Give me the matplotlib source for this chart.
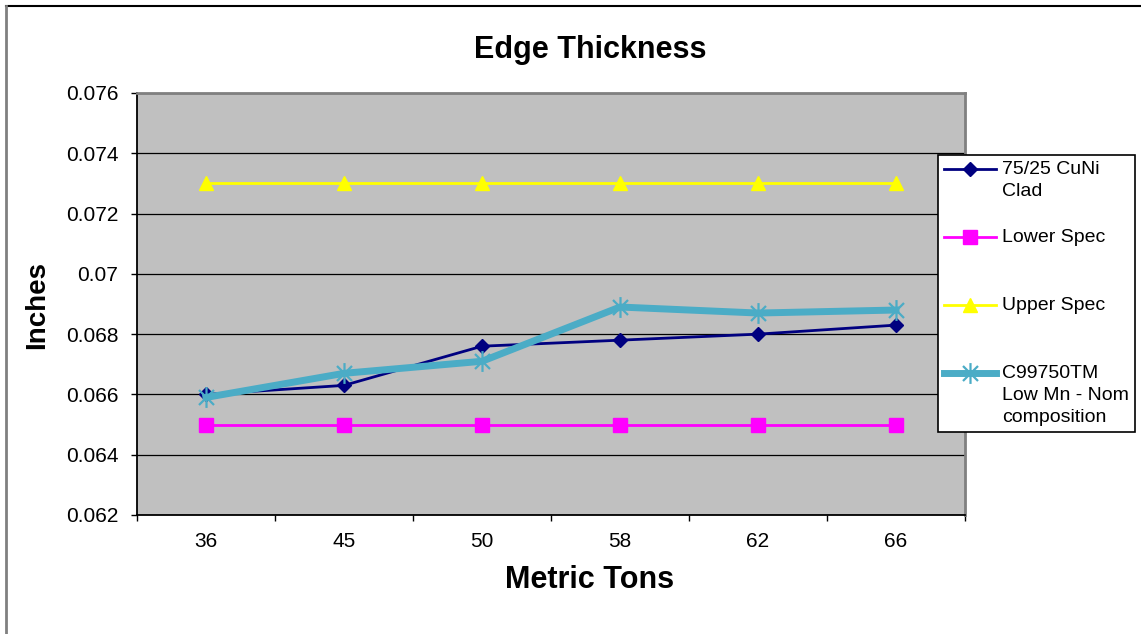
import numpy as np
import matplotlib
matplotlib.use("Agg")
import matplotlib.pyplot as plt
from matplotlib.lines import Line2D
from matplotlib.path import Path
from matplotlib.legend_handler import HandlerLine2D

# ----------------------------------------------------------------------
# data
tons = ["36", "45", "50", "58", "62", "66"]
cuni_clad = [0.0660, 0.0663, 0.0676, 0.0678, 0.0680, 0.0683]
lower_spec = [0.065, 0.065, 0.065, 0.065, 0.065, 0.065]
upper_spec = [0.073, 0.073, 0.073, 0.073, 0.073, 0.073]
c99750 = [0.0659, 0.0667, 0.0671, 0.0689, 0.0687, 0.0688]

y_ticks = [0.062, 0.064, 0.066, 0.068, 0.070, 0.072, 0.074, 0.076]
y_ticklabels = ["0.062", "0.064", "0.066", "0.068", "0.07", "0.072", "0.074", "0.076"]

labels = ["75/25 CuNi\nClad\n", "Lower Spec\n\n", "Upper Spec\n\n",
          "C99750TM\nLow Mn - Nom\ncomposition"]

# ----------------------------------------------------------------------
plt.rcParams.update({
    "font.family": ["Liberation Sans", "DejaVu Sans"],
    "figure.dpi": 100,
})

NAVY, MAGENTA, YELLOW, CYAN = "#000080", "#FF00FF", "#FFFF00", "#4BACC6"
PLOT_BG = "#C0C0C0"

# Excel "star" marker: vertical bar plus an X
star = Path([(0, -1), (0, 1), (-0.72, -0.72), (0.72, 0.72), (-0.72, 0.72), (0.72, -0.72)],
            [Path.MOVETO, Path.LINETO, Path.MOVETO, Path.LINETO, Path.MOVETO, Path.LINETO])


class FirstLineHandler(HandlerLine2D):
    """Put the legend sample level with the first line of a 3-line label."""
    def __init__(self, lift, **kw):
        super().__init__(**kw)
        self.lift = lift

    def create_artists(self, legend, orig_handle, xdescent, ydescent,
                       width, height, fontsize, trans):
        return super().create_artists(legend, orig_handle, xdescent,
                                      ydescent - 2 * self.lift * fontsize,
                                      width, height, fontsize, trans)


fig = plt.figure(figsize=(11.41, 6.34))
ax = fig.add_axes([137 / 1141, 1 - 515 / 634, 828 / 1141, 422 / 634])
ax.set_facecolor(PLOT_BG)

x = np.arange(len(tons))
ax.plot(x, cuni_clad, color=NAVY, lw=2, marker="D", ms=7.5, mfc=NAVY, mec=NAVY,
        label=labels[0], zorder=3)
ax.plot(x, lower_spec, color=MAGENTA, lw=2, marker="s", ms=10, mfc=MAGENTA, mec=MAGENTA,
        label=labels[1], zorder=3)
ax.plot(x, upper_spec, color=YELLOW, lw=2, marker="^", ms=10, mfc=YELLOW, mec=YELLOW,
        label=labels[2], zorder=3)
ax.plot(x, c99750, color=CYAN, lw=5, marker=star, ms=15, mfc="none", mec=CYAN, mew=1.6,
        label=labels[3], zorder=4)

# axes, ticks, grid
ax.set_xlim(-0.5, len(tons) - 0.5)
ax.set_ylim(0.062, 0.076)
ax.set_yticks(y_ticks)
ax.set_yticklabels(y_ticklabels)
ax.set_xticks(np.arange(len(tons) + 1) - 0.5)
ax.set_xticklabels([])
ax.set_xticks(x, minor=True)
ax.set_xticklabels(tons, minor=True)
ax.tick_params(axis="y", direction="out", length=4.5, width=1, pad=9, labelsize=15)
ax.tick_params(axis="x", which="major", direction="out", length=4.5, width=1)
ax.tick_params(axis="x", which="minor", length=0, pad=12, labelsize=15)
ax.yaxis.grid(True, color="black", lw=0.9)
ax.set_axisbelow(True)
for side in ("top", "right"):
    ax.spines[side].set_color("#808080")
    ax.spines[side].set_linewidth(2)
for side in ("left", "bottom"):
    ax.spines[side].set_color("black")
    ax.spines[side].set_linewidth(1.3)

ax.set_xlabel("Metric Tons", fontsize=22, fontweight="bold", va="center")
ax.xaxis.set_label_coords((590 - 137) / 828, (515 - 580) / 422)
ax.set_ylabel("Inches", fontsize=20, fontweight="bold", va="center")
ax.yaxis.set_label_coords((37 - 137) / 828, (515 - 305) / 422)
fig.text(590 / 1141, 1 - 50 / 634, "Edge Thickness", fontsize=22, fontweight="bold",
         ha="center", va="center")

leg = ax.legend(loc="upper left", bbox_to_anchor=(938 / 1141, 1 - 155 / 634),
                bbox_transform=fig.transFigure, borderaxespad=0, borderpad=0.3,
                handlelength=2.7, handletextpad=0.3, labelspacing=0.35,
                fontsize=14, frameon=True, fancybox=False, framealpha=1,
                edgecolor="black", handler_map={Line2D: FirstLineHandler(1.13)})
leg.get_frame().set_linewidth(1.2)
for t in leg.texts:
    t.set_linespacing(1.39)

# chart-area border (only top and left edges are inside the image)
fig.add_artist(Line2D([6 / 1141, 1], [1 - 6 / 634] * 2, color="black", lw=1.5,
                      transform=fig.transFigure))
fig.add_artist(Line2D([6 / 1141] * 2, [0, 1 - 6 / 634], color="#808080", lw=2,
                      transform=fig.transFigure))

fig.savefig("out.png", dpi=100)
